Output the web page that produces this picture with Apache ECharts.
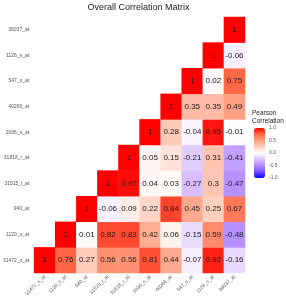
<!DOCTYPE html>
<html>
<head>
<meta charset="utf-8">
<script src="https://cdn.jsdelivr.net/npm/echarts@6/dist/echarts.min.js"></script>
<style>
  html, body { margin: 0; padding: 0; background: #fff; }
  #chart { width: 286px; height: 303px; }
</style>
</head>
<body>
<div id="chart"></div>
<script>
// probe ids, bottom row / left column first
const probes = ['31472_s_at', '1120_s_at', '940_at', '31515_i_at', '31818_r_at',
  '2036_s_at', '40266_at', '547_s_at', '1126_s_at', '36037_at'];

// each row starts at its own diagonal cell
const row0 = [1, 0.76, 0.27, 0.56, 0.56, 0.81, 0.44, -0.07, 0.92, -0.16];
const row1 = [1, 0.01, 0.82, 0.83, 0.42, 0.06, -0.15, 0.59, -0.48];
const row2 = [1, -0.06, 0.09, 0.22, 0.84, 0.45, 0.25, 0.67];
const row3 = [1, 0.97, 0.04, 0.03, -0.27, 0.3, -0.47];
const row4 = [1, 0.05, 0.15, -0.21, 0.31, -0.41];
const row5 = [1, 0.28, -0.04, 0.95, -0.01];
const row6 = [1, 0.35, 0.35, 0.49];
const row7 = [1, 0.02, 0.75];
const row8 = [1, -0.06];
const row9 = [1];

const legendTicks = [-1, -0.5, 0, 0.5, 1];

const rows = [row0, row1, row2, row3, row4, row5, row6, row7, row8, row9];
const cells = [];
rows.forEach((r, i) => {
  r.forEach((v, k) => cells.push([i + k, i, v]));
});

// blue - white - red, stops taken in Lab space like ggplot
const ramp = ['#0000FF', '#7E51FF', '#B38BFF', '#DCC4FF', '#FFFFFF',
  '#FFCFBF', '#FF9E81', '#FF6846', '#FF0000'];

const font = 'Liberation Sans, Arial, sans-serif';

const chart = echarts.init(document.getElementById('chart'), null, { renderer: 'canvas' });

chart.setOption({
  animation: false,
  title: [{
    text: 'Overall Correlation Matrix',
    left: 138.5,
    top: 3,
    padding: 0,
    textAlign: 'center',
    textStyle: { fontSize: 9, fontWeight: 'normal', color: '#222', fontFamily: font }
  }, {
    text: 'Pearson\nCorrelation',
    left: 252,
    top: 109,
    padding: 0,
    textStyle: { fontSize: 6.5, fontWeight: 'normal', color: '#222', fontFamily: font, lineHeight: 8 }
  }],
  grid: [
    { left: 32, top: 17, width: 213, height: 256 },
    { left: 254, top: 128, width: 11, height: 50 }
  ],
  xAxis: [{
    type: 'category',
    data: probes,
    gridIndex: 0,
    axisLine: { show: false },
    axisTick: { show: false },
    splitLine: { show: false },
    axisLabel: { rotate: 45, fontSize: 5, color: '#555', margin: 3, fontFamily: font, interval: 0 }
  }, {
    type: 'value',
    gridIndex: 1,
    show: false
  }],
  yAxis: [{
    type: 'category',
    data: probes,
    gridIndex: 0,
    axisLine: { show: false },
    axisTick: { show: false },
    splitLine: { show: false },
    axisLabel: { fontSize: 5, color: '#555', margin: 5, fontFamily: font, interval: 0 }
  }, {
    type: 'value',
    gridIndex: 1,
    position: 'right',
    min: legendTicks[0],
    max: legendTicks[legendTicks.length - 1],
    interval: 0.5,
    axisLine: { show: false },
    axisTick: { show: false },
    splitLine: { show: false },
    axisLabel: {
      fontSize: 5, color: '#555', margin: 4, fontFamily: font,
      formatter: v => v.toFixed(1)
    }
  }],
  visualMap: {
    type: 'continuous',
    min: -1,
    max: 1,
    seriesIndex: 0,
    calculable: false,
    left: 254,
    top: 128,
    itemWidth: 11,
    itemHeight: 50,
    padding: 0,
    text: null,
    showLabel: false,
    inRange: { color: ramp }
  },
  series: [{
    type: 'heatmap',
    xAxisIndex: 0,
    yAxisIndex: 0,
    data: cells,
    label: {
      show: true,
      fontSize: 8,
      color: '#1a1a1a',
      fontFamily: font,
      formatter: p => String(p.value[2])
    },
    emphasis: { disabled: true }
  }]
});
</script>
</body>
</html>
